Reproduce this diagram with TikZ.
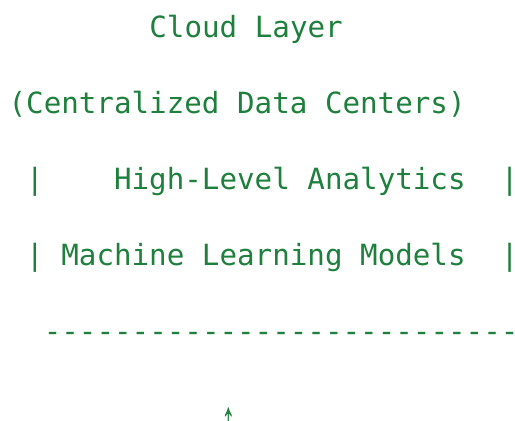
\documentclass[tikz,border=0pt]{standalone}
\usepackage{fontspec}
\newfontfamily\monofont{DejaVu Sans Mono}
\newfontfamily\arrowfont{Liberation Sans}
\definecolor{textgreen}{RGB}{30,128,60}

% monospaced grid: column width and left origin (in pt)
\def\colw{17.6}
\def\xzero{8.6}

\begin{document}
\begin{tikzpicture}[x=1pt,y=-1pt,
  asciiline/.style={anchor=base west,inner sep=0pt,outer sep=0pt,
    text=textgreen,font=\monofont\fontsize{29.2}{30}\selectfont}]
\useasboundingbox (0,0) rectangle (515,421);

\node[asciiline] (title)    at (\xzero+8*\colw,37)  {Cloud Layer};
\node[asciiline] (subtitle) at (\xzero,113)         {(Centralized Data Centers)};
\node[asciiline] (rowone)   at (\xzero+\colw,189)   {|~~~~High-Level Analytics~~|};
\node[asciiline] (rowtwo)   at (\xzero+\colw,265)   {|~Machine Learning Models~~|};
\node[asciiline] (rule)     at (\xzero+2*\colw,341) {-----------------------------};
% narrow up arrow, stretched to a long shaft
\node[anchor=south,inner sep=0pt,text=textgreen,yscale=2,transform shape,
      font=\arrowfont\fontsize{29.2}{30}\selectfont]
      (uparrow) at (\xzero+12.5*\colw,443) {↑};
\end{tikzpicture}
\end{document}
